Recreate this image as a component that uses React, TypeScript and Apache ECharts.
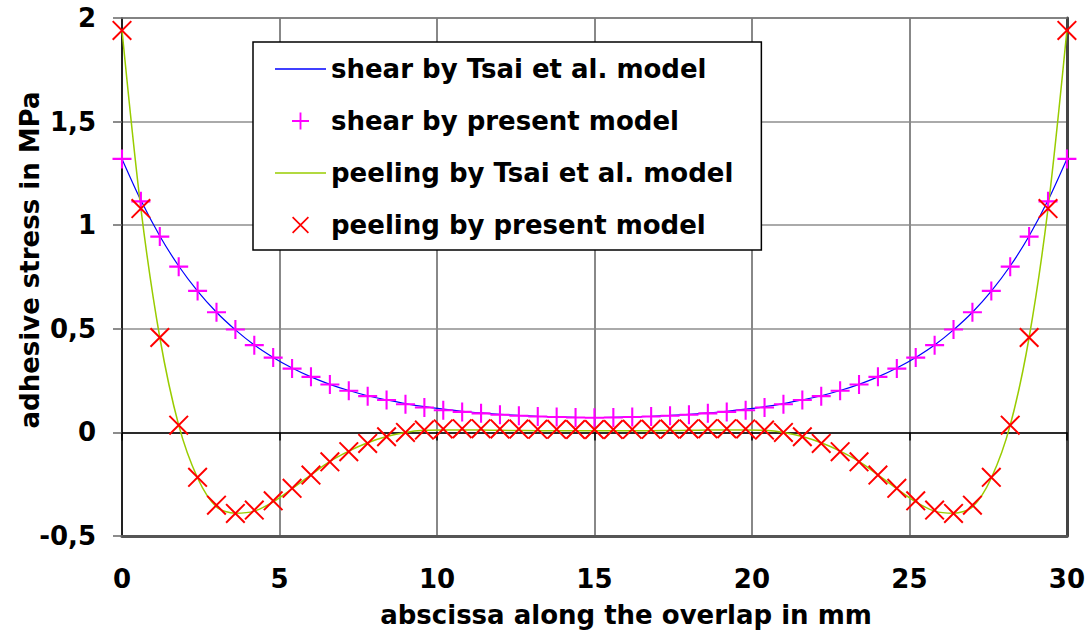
import React, { useEffect, useRef } from "react";
import * as echarts from "echarts";

const xPositions = [
  0, 0.6, 1.2, 1.8, 2.4, 3.0, 3.6, 4.2, 4.8, 5.4, 6.0, 6.6, 7.2, 7.8, 8.4, 9.0, 9.6,
  10.2, 10.8, 11.4, 12.0, 12.6, 13.2, 13.8, 14.4, 15.0, 15.6, 16.2, 16.8, 17.4, 18.0,
  18.6, 19.2, 19.8, 20.4, 21.0, 21.6, 22.2, 22.8, 23.4, 24.0, 24.6, 25.2, 25.8, 26.4,
  27.0, 27.6, 28.2, 28.8, 29.4, 30.0,
];

const shearPresent = [
  1.32, 1.115, 0.945, 0.8, 0.683, 0.58, 0.497, 0.421, 0.361, 0.308, 0.268, 0.231, 0.201,
  0.175, 0.156, 0.136, 0.12, 0.107, 0.099, 0.092, 0.085, 0.08, 0.077, 0.074, 0.072, 0.071,
  0.072, 0.074, 0.077, 0.08, 0.085, 0.092, 0.099, 0.107, 0.12, 0.136, 0.156, 0.175, 0.201,
  0.231, 0.268, 0.308, 0.361, 0.421, 0.497, 0.58, 0.683, 0.8, 0.945, 1.115, 1.32,
];

const shearTsai = [
  1.32, 1.12, 0.948, 0.803, 0.682, 0.58, 0.495, 0.422, 0.362, 0.311, 0.268, 0.232, 0.202,
  0.177, 0.157, 0.139, 0.124, 0.112, 0.102, 0.094, 0.087, 0.082, 0.078, 0.075, 0.073, 0.072,
  0.073, 0.075, 0.078, 0.082, 0.087, 0.094, 0.102, 0.112, 0.124, 0.139, 0.157, 0.177, 0.202,
  0.232, 0.268, 0.311, 0.362, 0.422, 0.495, 0.58, 0.682, 0.803, 0.948, 1.12, 1.32,
];

const peelPresent = [
  1.94, 1.08, 0.458, 0.035, -0.217, -0.351, -0.391, -0.375, -0.33, -0.27, -0.206, -0.142,
  -0.093, -0.053, -0.021, 0.0, 0.011, 0.017, 0.018, 0.018, 0.017, 0.016, 0.015, 0.015,
  0.014, 0.014, 0.014, 0.015, 0.015, 0.016, 0.017, 0.018, 0.018, 0.017, 0.011, 0.0, -0.021,
  -0.053, -0.093, -0.142, -0.206, -0.27, -0.33, -0.375, -0.391, -0.351, -0.217, 0.035,
  0.458, 1.08, 1.94,
];

const peelTsai = [
  1.94, 1.08, 0.458, 0.035, -0.22, -0.36, -0.39, -0.38, -0.335, -0.272, -0.205, -0.14,
  -0.09, -0.05, -0.02, 0.0, 0.01, 0.012, 0.012, 0.011, 0.01, 0.009, 0.008, 0.008,
  0.008, 0.008, 0.008, 0.008, 0.008, 0.009, 0.01, 0.011, 0.012, 0.012, 0.01, 0.0, -0.02,
  -0.05, -0.09, -0.14, -0.205, -0.272, -0.335, -0.38, -0.39, -0.36, -0.22, 0.035,
  0.458, 1.08, 1.94,
];

const seriesNames = [
  "shear by Tsai et al. model",
  "shear by present model",
  "peeling by Tsai et al. model",
  "peeling by present model",
];

const xAxisTitle = "abscissa along the overlap in mm";
const yAxisTitle = "adhesive stress in MPa";

const FONT = '"DejaVu Sans", Verdana, sans-serif';

const PLUS = "path://M8.9,0 H11.1 V8.9 H20 V11.1 H11.1 V20 H8.9 V11.1 H0 V8.9 H8.9 Z";
const CROSS =
  "path://M0,1.4 L1.4,0 L20,18.6 L18.6,20 Z M18.6,0 L20,1.4 L1.4,20 L0,18.6 Z";
const LEGEND_LINE = "path://M0,0 H51 V1.4 H0 Z";

function pairs(xs: number[], ys: number[]) {
  return xs.map((x, i) => [x, ys[i]]);
}

export default function App() {
  const ref = useRef<HTMLDivElement>(null);
  useEffect(() => {
    if (!ref.current) return;
    const chart = echarts.init(ref.current, undefined, { renderer: "svg" });
    const commaFmt = (v: number) => String(v).replace(".", ",");
    chart.setOption({
      animation: false,
      backgroundColor: "#fff",
      grid: { left: 122, right: 20, top: 18, bottom: 96, containLabel: false },
      xAxis: [
        {
          type: "value",
          min: 0,
          max: 30,
          interval: 5,
          position: "bottom",
          axisLine: { show: true, onZero: false, lineStyle: { color: "#555", width: 3 } },
          axisTick: { show: false },
          axisLabel: {
            margin: 30,
            fontSize: 26,
            fontWeight: "bold",
            fontFamily: FONT,
            color: "#000",
          },
          splitLine: { show: true, lineStyle: { color: "#888", width: 2 } },
        },
        {
          type: "value",
          min: 0,
          max: 30,
          interval: 5,
          position: "bottom",
          axisLine: { show: true, onZero: true, lineStyle: { color: "#000", width: 1.5 } },
          axisTick: { show: true, length: 8, lineStyle: { color: "#000", width: 1.5 } },
          axisLabel: { show: false },
          splitLine: { show: false },
        },
        {
          type: "value",
          min: 0,
          max: 30,
          interval: 5,
          position: "top",
          axisLine: { show: true, onZero: false, lineStyle: { color: "#777", width: 1.5 } },
          axisTick: { show: false },
          axisLabel: { show: false },
          splitLine: { show: false },
        },
      ],
      yAxis: [
        {
          type: "value",
          min: -0.5,
          max: 2,
          interval: 0.5,
          position: "left",
          axisLine: { show: true, onZero: false, lineStyle: { color: "#000", width: 1.5 } },
          axisTick: { show: true, length: 9, lineStyle: { color: "#666", width: 1.5 } },
          axisLabel: {
            margin: 26,
            fontSize: 26,
            fontWeight: "bold",
            fontFamily: FONT,
            color: "#000",
            formatter: commaFmt,
          },
          splitLine: { show: true, lineStyle: { color: "#aaa", width: 2 } },
        },
        {
          type: "value",
          min: -0.5,
          max: 2,
          interval: 0.5,
          position: "right",
          axisLine: { show: true, onZero: false, lineStyle: { color: "#444", width: 3 } },
          axisTick: { show: false },
          axisLabel: { show: false },
          splitLine: { show: false },
        },
      ],
      legend: {
        orient: "vertical",
        left: 253,
        top: 42,
        padding: [12, 28, 10, 22],
        itemWidth: 51,
        itemHeight: 17,
        itemGap: 22,
        selectedMode: false,
        symbolKeepAspect: true,
        backgroundColor: "#fff",
        borderColor: "#000",
        borderWidth: 1.5,
        borderRadius: 0,
        textStyle: {
          fontSize: 26,
          fontWeight: "bold",
          fontFamily: FONT,
          color: "#000",
          lineHeight: 30,
        },
        data: [
          { name: seriesNames[0], icon: LEGEND_LINE },
          { name: seriesNames[1] },
          { name: seriesNames[2], icon: LEGEND_LINE },
          { name: seriesNames[3] },
        ],
      },
      graphic: [
        {
          type: "text",
          x: 626,
          y: 615,
          style: {
            text: xAxisTitle,
            font: `bold 26px ${FONT}`,
            fill: "#000",
            align: "center",
            verticalAlign: "middle",
          },
        },
        {
          type: "text",
          x: 30,
          y: 260,
          rotation: Math.PI / 2,
          style: {
            text: yAxisTitle,
            font: `bold 26px ${FONT}`,
            fill: "#000",
            align: "center",
            verticalAlign: "middle",
          },
        },
      ],
      series: [
        {
          name: seriesNames[0],
          type: "line",
          data: pairs(xPositions, shearTsai),
          symbol: "none",
          smooth: 0.3,
          lineStyle: { color: "#0000ff", width: 1.2 },
          itemStyle: { color: "#0000ff" },
          z: 2,
        },
        {
          name: seriesNames[1],
          type: "scatter",
          data: pairs(xPositions, shearPresent),
          symbol: PLUS,
          symbolSize: 19,
          symbolKeepAspect: true,
          itemStyle: { color: "#ff00ff", opacity: 1 },
          z: 3,
        },
        {
          name: seriesNames[2],
          type: "line",
          data: pairs(xPositions, peelTsai),
          symbol: "none",
          smooth: 0.3,
          lineStyle: { color: "#99cc00", width: 1.5 },
          itemStyle: { color: "#99cc00" },
          z: 2,
        },
        {
          name: seriesNames[3],
          type: "scatter",
          data: pairs(xPositions, peelPresent),
          symbol: CROSS,
          symbolSize: 20,
          symbolKeepAspect: true,
          itemStyle: { color: "#ff0000", opacity: 1 },
          z: 4,
        },
      ],
    });
    return () => chart.dispose();
  }, []);
  return (
    <div
      ref={ref}
      style={{ position: "fixed", left: 0, top: 0, width: 1088, height: 632 }}
    />
  );
}
